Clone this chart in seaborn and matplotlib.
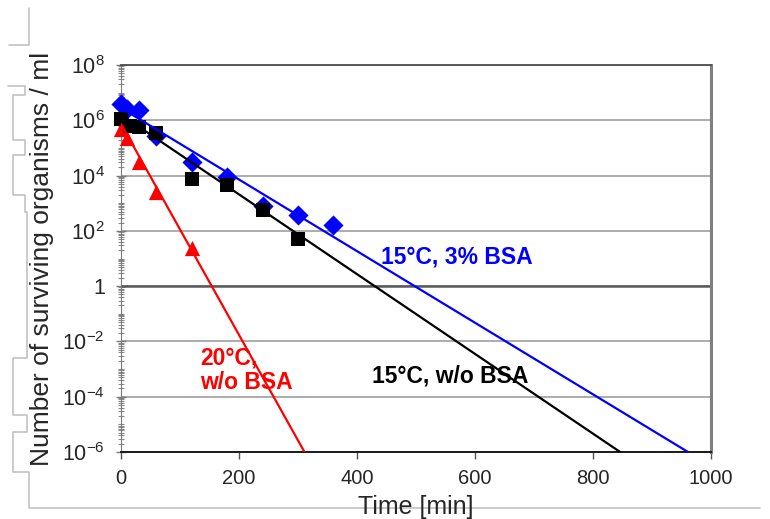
import numpy as np
import pandas as pd
import seaborn as sns
import matplotlib.pyplot as plt
from matplotlib.ticker import FixedLocator, LogLocator, NullFormatter
from matplotlib.lines import Line2D

sns.set_style('white')
plt.rcParams['font.family'] = ['Liberation Sans', 'DejaVu Sans']
plt.rcParams['mathtext.fontset'] = 'custom'
plt.rcParams['mathtext.rm'] = 'Liberation Sans'
plt.rcParams['axes.unicode_minus'] = False

# measured points
t_bsa = [0, 10, 30, 60, 120, 180, 240, 300, 360]
n_bsa = [4.0e6, 2.6e6, 2.3e6, 2.8e5, 3.2e4, 9.0e3, 8.0e2, 3.7e2, 1.6e2]

t_15 = [0, 15, 30, 60, 120, 180, 240, 300]
n_15 = [1.1e6, 6.0e5, 5.5e5, 3.6e5, 7.6e3, 4.6e3, 5.6e2, 50]

t_20 = [0, 10, 30, 60, 120]
n_20 = [5.0e5, 2.3e5, 3.1e4, 2.6e3, 24]

# fitted lines (start / end)
fit_t_bsa = [0, 961]
fit_n_bsa = [2.8e6, 1e-6]
fit_t_15 = [0, 846]
fit_n_15 = [1.6e6, 1e-6]
fit_t_20 = [0, 311]
fit_n_20 = [7.4e5, 1e-6]

ytick_vals = [1e-6, 1e-4, 1e-2, 1, 1e2, 1e4, 1e6, 1e8]
ytick_labels = [r'10$^{\mathregular{-6}}$', r'10$^{\mathregular{-4}}$', r'10$^{\mathregular{-2}}$', '1',
                r'10$^{\mathregular{2}}$', r'10$^{\mathregular{4}}$', r'10$^{\mathregular{6}}$', r'10$^{\mathregular{8}}$']
xtick_vals = [0, 200, 400, 600, 800, 1000]

BLUE = '#0000FF'
RED = '#FF0000'
BLACK = '#000000'

fig = plt.figure(figsize=(7.7, 5.19), dpi=100)
ax = fig.add_axes([121 / 770, 1 - 452 / 519, 590 / 770, 387 / 519])

pts = [
    (pd.DataFrame({'t': t_20, 'n': n_20}), RED, '^', 120),
    (pd.DataFrame({'t': t_bsa, 'n': n_bsa}), BLUE, 'D', 105),
    (pd.DataFrame({'t': t_15, 'n': n_15}), BLACK, 's', 115),
]
for d, c, m, s in pts:
    sns.scatterplot(data=d, x='t', y='n', color=c, marker=m, s=s, linewidth=0,
                    ax=ax, zorder=4, clip_on=False)

fits = [
    (pd.DataFrame({'t': fit_t_20, 'n': fit_n_20}), RED),
    (pd.DataFrame({'t': fit_t_15, 'n': fit_n_15}), BLACK),
    (pd.DataFrame({'t': fit_t_bsa, 'n': fit_n_bsa}), BLUE),
]
for d, c in fits:
    sns.lineplot(data=d, x='t', y='n', color=c, lw=1.6, ax=ax, zorder=5)

ax.set_yscale('log')
ax.set_xlim(0, 1000)
ax.set_ylim(1e-6, 1e8)
ax.yaxis.set_major_locator(FixedLocator(ytick_vals))
ax.set_yticklabels(ytick_labels)
ax.yaxis.set_minor_locator(LogLocator(base=10, subs=np.arange(1, 10), numticks=100))
ax.yaxis.set_minor_formatter(NullFormatter())
ax.set_xticks(xtick_vals)

ax.yaxis.grid(True, which='major', color='#a6a6a6', lw=1.3)
ax.xaxis.grid(False)
ax.axhline(1, color='#5a5a5a', lw=1.8, zorder=1)
ax.set_axisbelow(True)

ax.spines['left'].set_color('#7a7a7a')
ax.spines['bottom'].set_color('#1a1a1a')
ax.spines['bottom'].set_linewidth(1.4)
ax.spines['top'].set_color('#4d4d4d')
ax.spines['top'].set_linewidth(1.3)
ax.spines['right'].set_color('#7f7f7f')
ax.spines['right'].set_linewidth(2.2)

ax.tick_params(axis='y', which='major', direction='inout', length=7, width=1, color='#7a7a7a',
               labelsize=15.5, pad=8, left=True)
ax.tick_params(axis='y', which='minor', direction='inout', length=4, width=0.8, color='#8a8a8a', left=True)
ax.tick_params(axis='x', direction='out', length=5, width=1, color='#555555', labelsize=14.5, pad=7, bottom=True)

ax.set_xlabel('Time [min]', fontsize=18, labelpad=5)
ax.set_ylabel('Number of surviving organisms / ml', fontsize=19, labelpad=6)

ax.text(440, 11, '15°C, 3% BSA', color=BLUE, fontweight='bold', fontsize=16.5, va='center')
ax.text(425, 5.6e-4, '15°C, w/o BSA', color=BLACK, fontweight='bold', fontsize=16.5, va='center')
ax.text(134, 9e-4, '20°C,\nw/o BSA', color=RED, fontweight='bold', fontsize=16.5, va='center',
        linespacing=1.1)

# gray bracket outline left of the chart
deco = [
    [(9, 45), (29, 45), (29, 8)],
    [(8, 86), (25, 86), (25, 95), (13, 95), (13, 140), (25, 140), (25, 155), (13, 155),
     (13, 195), (25, 195), (25, 212), (27, 212), (27, 358), (13, 358), (13, 415), (27, 415),
     (27, 432), (13, 432), (13, 472), (29, 472), (29, 508), (760, 508)],
]
for seg in deco:
    xs = [p[0] / 770 for p in seg]
    ys = [1 - p[1] / 519 for p in seg]
    fig.add_artist(Line2D(xs, ys, color='#bdbdbd', lw=1.1, zorder=0))

fig.savefig('out.png', dpi=100)
